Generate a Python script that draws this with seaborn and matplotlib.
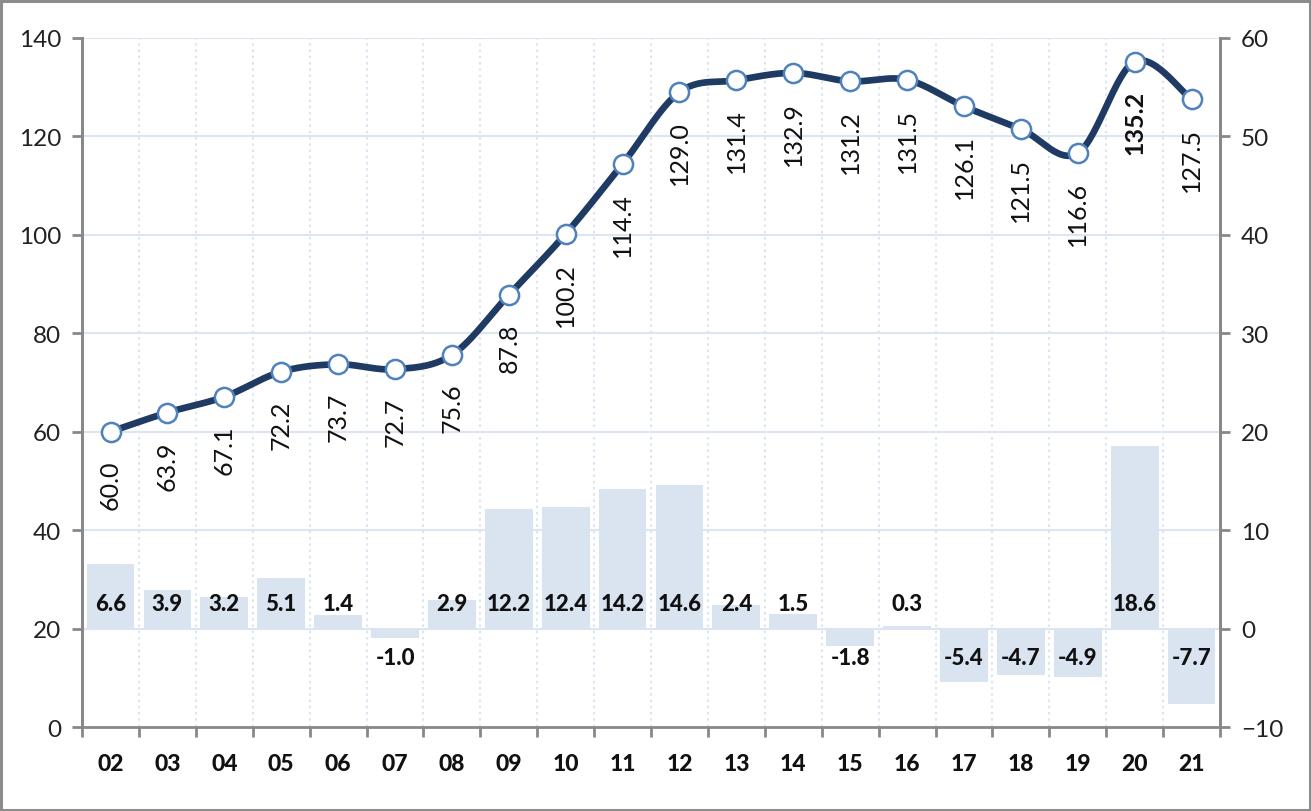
import numpy as np
import pandas as pd
import matplotlib
matplotlib.use("Agg")
import matplotlib.pyplot as plt
import seaborn as sns
from matplotlib.patches import Rectangle

# ---- data ----
categories = ["02", "03", "04", "05", "06", "07", "08", "09", "10", "11",
              "12", "13", "14", "15", "16", "17", "18", "19", "20", "21"]
line_values = [60.0, 63.9, 67.1, 72.2, 73.7, 72.7, 75.6, 87.8, 100.2, 114.4,
               129.0, 131.4, 132.9, 131.2, 131.5, 126.1, 121.5, 116.6, 135.2, 127.5]
bar_values = [6.6, 3.9, 3.2, 5.1, 1.4, -1.0, 2.9, 12.2, 12.4, 14.2,
              14.6, 2.4, 1.5, -1.8, 0.3, -5.4, -4.7, -4.9, 18.6, -7.7]
left_ticks = [0, 20, 40, 60, 80, 100, 120, 140]
right_ticks = [-10, 0, 10, 20, 30, 40, 50, 60]
bold_label_index = 18

sns.set_theme(style="white")
plt.rcParams["font.family"] = ["Lato", "DejaVu Sans"]

LINE_C = "#1F3B63"
MARK_EDGE = "#4F81BD"
BAR_C = "#DAE3F0"
GRID_C = "#DCE6F2"
AX_C = "#888888"
TXT_C = "#111111"

fig = plt.figure(figsize=(13.11, 8.12), dpi=100)
ax = fig.add_axes([0.0626, 0.1034, 0.9306 - 0.0626, 0.952 - 0.1034])

df = pd.DataFrame({"cat": categories, "bar": bar_values, "line": line_values})
x = np.arange(len(categories))

# bars on main axes (right scale)
sns.barplot(data=df, x="cat", y="bar", ax=ax, color=BAR_C, saturation=1,
            width=0.84, edgecolor="none", zorder=2)
ax.set_ylim(-10, 60)
ax.set_xlim(-0.5, len(categories) - 0.5)
ax.set_xlabel("")
ax.set_ylabel("")

# gridlines
for t in right_ticks[1:]:
    ax.axhline(t, color=GRID_C, lw=1.5, zorder=0)
for i in range(len(categories) - 1):
    ax.axvline(i + 0.5, color=GRID_C, lw=1.5, ls=(0, (1.2, 1.8)), zorder=0)

# bar labels
for i, v in enumerate(bar_values):
    off = 18 if v >= 0 else -20.5
    ax.annotate(f"{v:.1f}", (i, 0), xytext=(0, off), textcoords="offset points",
                ha="center", va="center", fontsize=16, fontweight="black", color=TXT_C)

# line on twin axes (left scale)
ax2 = ax.twinx()
ax2.set_ylim(0, 140)

# smooth curve (Bezier via Catmull-Rom control points from the data points)
pts = np.column_stack([x, np.array(line_values, dtype=float)])
cx, cy = [], []
n = len(pts)
tt = np.linspace(0, 1, 30)
for i in range(n - 1):
    p0 = pts[i - 1] if i > 0 else pts[i]
    p1 = pts[i]
    p2 = pts[i + 1]
    p3 = pts[i + 2] if i + 2 < n else pts[i + 1]
    c1 = p1 + (p2 - p0) / 6.0
    c2 = p2 - (p3 - p1) / 6.0
    b = ((1 - tt) ** 3)[:, None] * p1 + (3 * (1 - tt) ** 2 * tt)[:, None] * c1 \
        + (3 * (1 - tt) * tt ** 2)[:, None] * c2 + (tt ** 3)[:, None] * p2
    cx.extend(b[:, 0]); cy.extend(b[:, 1])
ax2.plot(cx, cy, color=LINE_C, lw=4.8, solid_capstyle="round", zorder=3)
sns.scatterplot(x=x, y=line_values, ax=ax2, s=190, color="white",
                edgecolor=MARK_EDGE, linewidth=1.8, zorder=4)

for i, v in enumerate(line_values):
    ax2.annotate(f"{v:.1f}", (i, v), xytext=(0, -20), textcoords="offset points",
                 ha="center", va="top", rotation=90, fontsize=18,
                 fontweight="bold" if i == bold_label_index else "normal",
                 color=TXT_C)
ax2.set_ylabel("")

# tick sides (after twinx, which resets them)
ax.yaxis.tick_right()
ax2.yaxis.tick_left()
ax.set_yticks(right_ticks)
ax2.set_yticks(left_ticks)

# axes styling
for a in (ax, ax2):
    a.spines["top"].set_visible(False)
    for s in ("left", "right", "bottom"):
        a.spines[s].set_color(AX_C)
        a.spines[s].set_linewidth(2)
ax2.spines["bottom"].set_visible(False)

ax.tick_params(axis="y", which="major", direction="out", length=7, width=2,
               color=AX_C, labelsize=17.5, labelcolor="#222222", pad=8,
               right=True, left=False, labelright=True, labelleft=False)
ax2.tick_params(axis="y", which="major", direction="out", length=7, width=2,
                color=AX_C, labelsize=17.5, labelcolor="#222222", pad=8,
                left=True, right=False, labelleft=True, labelright=False)

ax.set_xticks(x)
ax.set_xticklabels(categories)
plt.setp(ax.get_xticklabels(), fontsize=16.5, fontweight="black", color=TXT_C)
ax.tick_params(axis="x", which="major", length=0, pad=19)
ax.set_xticks(np.arange(-0.5, len(categories), 1.0), minor=True)
ax.tick_params(axis="x", which="minor", direction="out", length=7, width=2, color=AX_C, bottom=True)

# figure border
fig.add_artist(Rectangle((0.001, 0.001), 0.998, 0.997, transform=fig.transFigure,
                         fill=False, edgecolor="#8C8C8C", lw=2.2))

fig.savefig("out.png", dpi=100, facecolor="white")
